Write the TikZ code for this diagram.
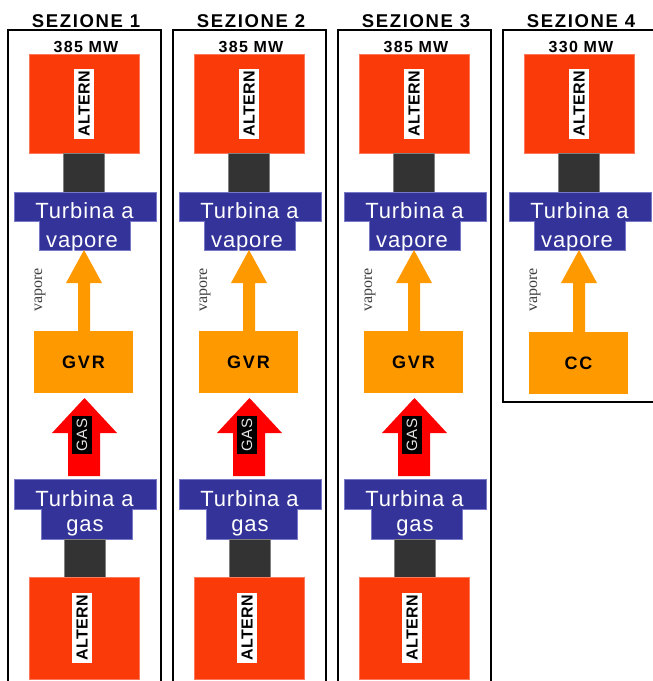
\documentclass[tikz,border=0pt]{standalone}
\usepackage{fontspec}
\setmainfont{Liberation Sans}
\newfontfamily\serifface{Liberation Serif}
\definecolor{altred}{RGB}{250,58,8}
\definecolor{altedge}{RGB}{252,120,90}
\definecolor{turbblue}{RGB}{51,51,153}
\definecolor{turbedge}{RGB}{120,120,200}
\definecolor{shaftgray}{RGB}{51,51,51}
\definecolor{steamorange}{RGB}{255,153,0}
\definecolor{gasred}{RGB}{255,0,0}
\tikzset{
  frame/.style={draw=black,line width=1.1pt},
  altbox/.style={fill=altred,draw=altedge,line width=0.5pt},
  altlabel/.style={fill=white,rotate=90,inner sep=0pt,minimum width=70pt,minimum height=20pt,font=\fontsize{16}{16}\selectfont\bfseries\addfontfeatures{LetterSpace=3}},
  shaftbox/.style={fill=shaftgray,draw=gray,line width=0.4pt},
  turbbox/.style={fill=turbblue,draw=turbedge,line width=0.6pt},
  turbtext/.style={text=white,inner sep=0pt,font=\fontsize{22}{24}\selectfont\addfontfeatures{LetterSpace=4}},
  steam/.style={fill=steamorange},
  gasarrow/.style={fill=gasred},
  titletext/.style={font=\fontsize{18.5}{19}\selectfont\bfseries\addfontfeatures{LetterSpace=9}},
  mwtext/.style={font=\fontsize{16}{16}\selectfont\bfseries\addfontfeatures{LetterSpace=8}},
  boxtext/.style={font=\fontsize{18}{18}\selectfont\bfseries\addfontfeatures{LetterSpace=10}},
  steamlabel/.style={rotate=90,text=black!75,font=\fontsize{16}{16}\serifface},
  gaslabel/.style={fill=black,text=white!90!black,rotate=90,inner sep=0pt,minimum width=38pt,minimum height=20pt,font=\fontsize{15}{16}\selectfont\addfontfeatures{LetterSpace=4}},
}
\begin{document}
\begin{tikzpicture}[x=1pt,y=-1pt]
\useasboundingbox (0,0) rectangle (653,681);
\fill[white] (0,0) rectangle (653,681);
% ---------- sections 1-3 (combined cycle) ----------
\foreach \i/\lab in {0/1,1/2,2/3}{
  \begin{scope}[xshift=165*\i]
    \draw[frame] (8,700) -- (8,30) -- (161,30) -- (161,700);
    \node[titletext] (title\lab) at (86,21) {SEZIONE \lab};
    \node[mwtext] (mw\lab) at (86,47) {385 MW};
    % top alternator
    \node[altbox,minimum width=110pt,minimum height=99pt,inner sep=0pt] (altT\lab) at (84,103.5) {};
    \node[altlabel] (altTl\lab) at (altT\lab.center) {ALTERN};
    \node[shaftbox,minimum width=41pt,minimum height=39pt,inner sep=0pt,anchor=north] (shT\lab) at (altT\lab.south) {};
    % steam turbine
    \node[turbbox,minimum width=142pt,minimum height=29pt,inner sep=0pt] (stA\lab) at (85,206.5) {};
    \node[turbbox,minimum width=91pt,minimum height=29pt,inner sep=0pt] (stB\lab) at (84.5,235.5) {};
    \fill[turbblue] (40,218) rectangle (129.5,224);
    \begin{scope}
      \clip (14,192) rectangle (156,221) (39,221) rectangle (130,250);
      \node[turbtext,anchor=base] (stT\lab) at (84.5,218) {Turbina a};
      \node[turbtext,anchor=base] (stV\lab) at (82,247) {vapore};
    \end{scope}
    % HRSG
    \node[fill=steamorange,minimum width=99pt,minimum height=62pt,inner sep=0pt,boxtext] (gvr\lab) at (83.5,362) {GVR};
    \coordinate (tip\lab) at (84,250);
    \fill[steam] (gvr\lab.north -| 78,0) -- (78,283) -- (66,283) -- (tip\lab) -- (102,283) -- (90,283) -- (gvr\lab.north -| 90,0) -- cycle;
    \node[steamlabel] (vl\lab) at (40,290) {vapore};
    % gas turbine
    \node[turbbox,minimum width=142pt,minimum height=30pt,inner sep=0pt] (gtA\lab) at (85,494) {};
    \node[turbbox,minimum width=91pt,minimum height=30pt,inner sep=0pt] (gtB\lab) at (86.5,524) {};
    \fill[turbblue] (42,505) rectangle (131.5,513);
    \node[turbtext,anchor=base] (gtT\lab) at (84.5,506) {Turbina a};
    \node[turbtext,anchor=base] (gtG\lab) at (85,531) {gas};
    % gas arrow
    \coordinate (gtip\lab) at (84.5,398);
    \fill[gasarrow] (68,476) -- (68,433) -- (52,433) -- (gtip\lab) -- (117,433) -- (100,433) -- (100,476) -- cycle;
    \node[gaslabel] (gl\lab) at (82,435) {GAS};
    % bottom alternator
    \node[shaftbox,minimum width=41pt,minimum height=38pt,inner sep=0pt,anchor=north] (shB\lab) at (84.5,539) {};
    \node[altbox,minimum width=110pt,minimum height=102pt,inner sep=0pt,anchor=north] (altB\lab) at (shB\lab.south) {};
    \node[altlabel] (altBl\lab) at (82,627.5) {ALTERN};
  \end{scope}
}
% ---------- section 4 ----------
\begin{scope}[xshift=495]
  \draw[frame] (200,402) -- (8,402) -- (8,30) -- (200,30);
  \node[titletext] (title4) at (86,21) {SEZIONE 4};
  \node[mwtext] (mw4) at (86,47) {330 MW};
  \node[altbox,minimum width=110pt,minimum height=99pt,inner sep=0pt] (altT4) at (84,103.5) {};
  \node[altlabel] (altTl4) at (altT4.center) {ALTERN};
  \node[shaftbox,minimum width=41pt,minimum height=39pt,inner sep=0pt,anchor=north] (shT4) at (altT4.south) {};
  \node[turbbox,minimum width=142pt,minimum height=29pt,inner sep=0pt] (stA4) at (85,206.5) {};
  \node[turbbox,minimum width=91pt,minimum height=29pt,inner sep=0pt] (stB4) at (84.5,235.5) {};
  \fill[turbblue] (40,218) rectangle (129.5,224);
  \begin{scope}
    \clip (14,192) rectangle (156,221) (39,221) rectangle (130,250);
    \node[turbtext,anchor=base] (stT4) at (84.5,218) {Turbina a};
    \node[turbtext,anchor=base] (stV4) at (82,247) {vapore};
  \end{scope}
  \node[fill=steamorange,minimum width=99pt,minimum height=62pt,inner sep=0pt,boxtext] (cc4) at (83.5,363) {CC};
  \coordinate (tip4) at (84,250);
  \fill[steam] (cc4.north -| 78,0) -- (78,283) -- (66,283) -- (tip4) -- (102,283) -- (90,283) -- (cc4.north -| 90,0) -- cycle;
  \node[steamlabel] (vl4) at (40,290) {vapore};
\end{scope}
\end{tikzpicture}
\end{document}
